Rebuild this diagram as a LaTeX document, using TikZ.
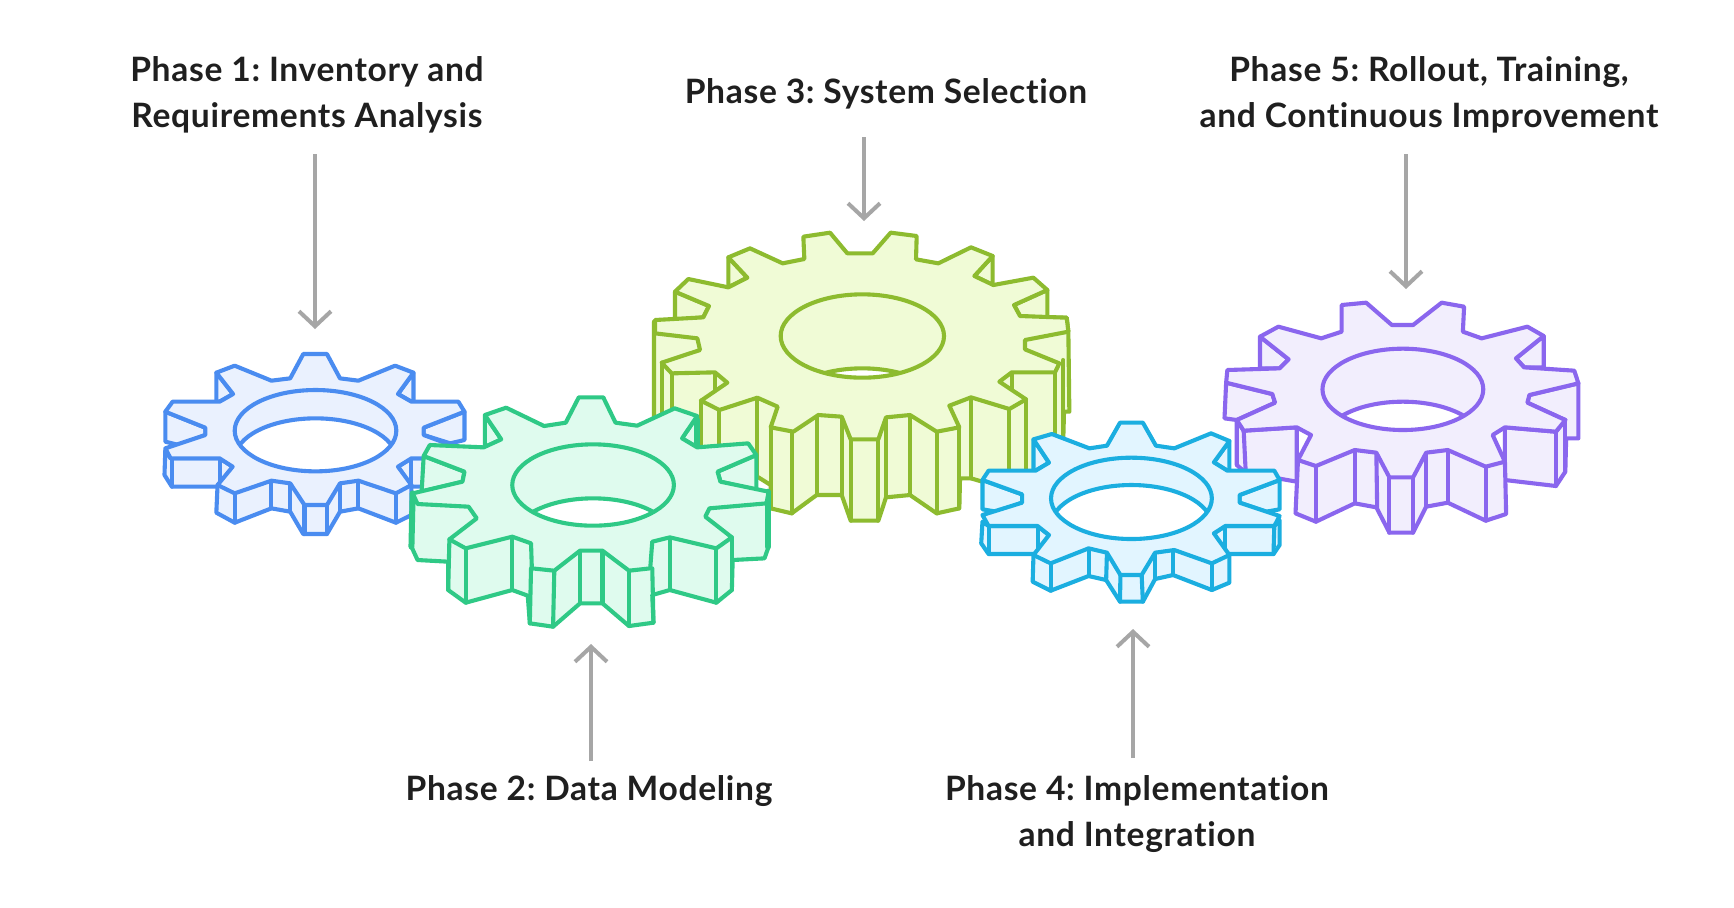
\documentclass[tikz,border=0pt]{standalone}
\usepackage{fontspec}
\setmainfont{Lato}[LetterSpace=2,Ligatures=NoCommon]
\frenchspacing
\usetikzlibrary{arrows.meta}
\definecolor{blueS}{HTML}{4A8CF0}\definecolor{blueF}{HTML}{EAF1FE}
\definecolor{greenS}{HTML}{2FC986}\definecolor{greenF}{HTML}{DFFBEE}
\definecolor{yelS}{HTML}{8DBB2F}\definecolor{yelF}{HTML}{F0FBD6}
\definecolor{cyanS}{HTML}{1BAEE0}\definecolor{cyanF}{HTML}{E2F5FF}
\definecolor{purS}{HTML}{8A66EE}\definecolor{purF}{HTML}{F2EEFD}
\definecolor{arrowgray}{HTML}{A6A6A6}
\newcommand\gearcol[2]{\colorlet{gs}{#1}\colorlet{gf}{#2}}
\newcommand\gearhole[5]{%
  \begin{scope}
    \clip (#1,#2) ellipse [x radius=#3,y radius=#4];
    \fill[white] (#1,#2+#5) ellipse [x radius=#3,y radius=#4];
    \draw[edge] (#1,#2+#5) ellipse [x radius=#3,y radius=#4];
  \end{scope}
  \draw[edge] (#1,#2) ellipse [x radius=#3,y radius=#4];}
\tikzset{
  wall/.style={draw=gs,fill=gf,line width=2.05pt,line join=round,line cap=round},
  edge/.style={draw=gs,line width=2.05pt,line join=round,line cap=round},
  wide/.style={shift={#1},x=0.20408pt,y=-0.16667pt},
  tall/.style={shift={#1},x=0.16667pt,y=-0.16667pt},
  lab/.style={text=black!88,font=\fontsize{16.8}{23}\selectfont\bfseries,align=center,inner sep=0pt},
  pointer/.style={draw=arrowgray,line width=2pt,-{Straight Barb[length=7.5pt,width=16pt,line width=2pt]}}
}
\begin{document}
\begin{tikzpicture}[x=0.5pt,y=-0.5pt]
\useasboundingbox (0,0) rectangle (1734,907);
\fill[white] (0,0) rectangle (1734,907);

% ---- Blue gear
\begin{scope}[wide={(140,330)}]
\gearcol{blueS}{blueF}
\path[wall] (187,128)--(187,215)--(195,215)--(228,192)--cycle;
\path[wall] (670,128)--(670,215)--(665,215)--(632,192)--cycle;
\path[wall] (62,245)--(62,335)--(95,345)--(160,315)--(160,293)--cycle;
\path[wall] (795,245)--(795,330)--(760,340)--(695,315)--(695,293)--cycle;
\path[wall] (62,360)--(60,435)--(78,470)--(200,470)--(227,410)--(195,385)--(75,385)--cycle;
\path[wall] (665,385)--(632,410)--(665,470)--(775,470)--(795,435)--(795,360)--(780,385)--cycle;
\path[wall] (190,465)--(187,548)--(232,578)--(322,535)--(368,545)--(400,612)--(458,612)--(490,545)--(535,535)--(627,578)--(665,555)--(665,465)--(627,440)--(232,440)--cycle;
\foreach \a/\b/\c/\d in {78/385/78/470,195/385/195/465,665/385/665/470,232/490/232/578,322/452/322/535,368/460/368/545,403/525/403/612,458/525/458/612,490/460/490/545,535/452/535/535,627/490/627/578}
  \draw[edge] (\a,\b)--(\c,\d);
\path[wall] (400,72)--(458,72)--(490,145)--(535,152)--(625,107)--(670,128)--(632,192)--(665,215)--(780,215)--(795,245)--(695,293)--(695,315)--(795,360)--(780,385)--(665,385)--(632,410)--(665,465)--(627,490)--(535,452)--(490,460)--(458,525)--(403,525)--(368,460)--(322,452)--(232,490)--(190,465)--(227,410)--(195,385)--(75,385)--(62,355)--(160,315)--(160,293)--(62,245)--(80,215)--(195,215)--(228,192)--(187,128)--(232,107)--(322,152)--(368,145)--cycle;
\gearhole{430}{302}{198}{122}{85}
\end{scope}

% ---- Yellow gear
\begin{scope}[tall={(640,210)}]
\gearcol{yelS}{yelF}
\path[wall] (105,245)--(105,330)--(190,322)--(207,288)--cycle;
\path[wall] (1222,240)--(1222,325)--(1140,318)--(1122,285)--cycle;
\path[wall] (265,142)--(265,232)--(322,203)--cycle;
\path[wall] (1058,138)--(1058,225)--(1003,198)--cycle;
\path[wall] (42,335)--(42,620)--(180,720)--(352,800)--(392,825)--(392,895)--(455,910)--(530,855)--(605,855)--(632,932)--(715,932)--(738,862)--(810,855)--(890,910)--(958,895)--(960,805)--(993,805)--(1105,838)--(1158,800)--(1245,790)--(1270,680)--(1272,605)--(1288,605)--(1285,365)--(1280,323)--cycle;
\foreach \a/\b/\c/\d in {65/458/65/610,95/490/95/610,183/572/183/720,238/600/238/700,352/563/352/800,392/652/392/895,455/665/455/910,530/615/530/855,605/620/605/855,632/688/632/932,715/688/715/932,738/622/738/862,810/615/810/855,890/665/890/910,958/652/958/895,993/562/993/805,1108/597/1108/830,1158/568/1158/800,1245/487/1245/790,1270/450/1270/680,225/487/225/545,1115/487/1115/550}
  \draw[edge] (\a,\b)--(\c,\d);
\path[wall] (490,80)--(570,68)--(622,130)--(698,130)--(752,68)--(830,78)--(828,148)--(895,160)--(993,112)--(1058,138)--(1003,198)--(1060,225)--(1180,203)--(1222,240)--(1122,285)--(1140,318)--(1280,323)--(1285,365)--(1155,390)--(1155,418)--(1258,460)--(1245,487)--(1115,487)--(1078,515)--(1158,568)--(1108,597)--(993,562)--(928,587)--(958,652)--(890,665)--(810,615)--(738,622)--(715,688)--(632,688)--(605,620)--(535,615)--(460,665)--(392,652)--(413,590)--(352,563)--(238,600)--(183,572)--(262,518)--(225,487)--(95,490)--(65,458)--(180,420)--(172,385)--(45,370)--(45,330)--(190,322)--(207,288)--(105,245)--(145,207)--(265,232)--(322,203)--(265,142)--(330,115)--(428,160)--(493,147)--cycle;
\gearhole{667}{378}{245}{125}{222}
\end{scope}

% ---- Purple gear
\begin{scope}[wide={(960,280)}]
\gearcol{purS}{purF}
\path[wall] (735,170)--(735,265)--(783,265)--(805,238)--cycle;
\path[wall] (1430,168)--(1430,262)--(1382,262)--(1362,235)--cycle;
\path[wall] (652,308)--(648,415)--(678,420)--(678,555)--(700,578)--(825,605)--(825,442)--(695,452)--(678,420)--(772,368)--(765,342)--cycle;
\path[wall] (1515,310)--(1515,475)--(1485,475)--(1483,575)--(1460,618)--(1335,600)--(1335,442)--(1460,455)--(1483,420)--(1390,368)--(1395,345)--cycle;
\path[wall] (828,540)--(822,700)--(872,725)--(967,670)--(1020,682)--(1052,758)--(1110,758)--(1142,680)--(1195,668)--(1288,722)--(1338,702)--(1335,545)--(1300,490)--(860,490)--cycle;
\foreach \a/\b/\c/\d in {695/452/700/578,1460/455/1460/618,678/420/678/555,1483/420/1483/575,825/442/825/540,1335/442/1335/545,872/558/872/725,967/510/967/670,1020/518/1022/682,1052/592/1052/758,1110/592/1110/758,1142/518/1142/680,1195/510/1195/668,1288/560/1288/722}
  \draw[edge] (\a,\b)--(\c,\d);
\path[wall] (935,75)--(995,68)--(1058,135)--(1110,135)--(1180,68)--(1235,80)--(1232,155)--(1278,175)--(1390,140)--(1430,168)--(1362,235)--(1382,262)--(1505,272)--(1515,310)--(1395,345)--(1390,368)--(1483,420)--(1460,455)--(1335,442)--(1305,465)--(1335,545)--(1288,560)--(1195,510)--(1142,518)--(1110,592)--(1052,592)--(1020,518)--(967,510)--(872,558)--(828,540)--(860,465)--(825,442)--(695,452)--(678,420)--(772,368)--(765,342)--(652,308)--(655,270)--(783,265)--(805,238)--(735,170)--(780,140)--(885,175)--(935,155)--cycle;
\gearhole{1085}{328}{197}{122}{159}
\end{scope}

% ---- Green gear
\begin{scope}[wide={(140,330)}]
\gearcol{greenS}{greenF}
\path[wall] (845,255)--(845,352)--(885,328)--cycle;
\path[wall] (1365,258)--(1365,352)--(1328,325)--cycle;
\path[wall] (695,378)--(690,485)--(790,455)--(795,425)--cycle;
\path[wall] (1510,375)--(1510,480)--(1422,455)--(1415,425)--cycle;
\path[wall] (668,490)--(665,650)--(680,690)--(755,695)--(755,780)--(798,818)--(912,780)--(950,797)--(955,880)--(1012,890)--(1078,820)--(1133,820)--(1198,888)--(1258,878)--(1255,795)--(1298,780)--(1412,818)--(1450,780)--(1452,690)--(1530,685)--(1540,650)--(1540,485)--(1400,500)--(800,500)--cycle;
\foreach \a/\b/\c/\d in {758/628/755/780,798/655/798/818,912/620/912/780,958/715/955/880,1015/722/1012/890,1078/662/1078/820,1133/662/1133/820,1198/722/1198/888,1255/715/1258/878,1298/622/1298/780,1412/655/1412/818,1450/622/1450/780}
  \draw[edge] (\a,\b)--(\c,\d);
\draw[edge,line width=3pt] (668,490)--(665,650);
\draw[edge,line width=3pt] (1538,485)--(1538,650);
\draw[edge,line width=3pt] (1365,270)--(1365,345);
\path[wall] (1075,202)--(1135,202)--(1165,278)--(1218,287)--(1310,235)--(1365,258)--(1328,325)--(1365,352)--(1490,340)--(1510,375)--(1415,425)--(1422,455)--(1540,485)--(1535,520)--(1395,535)--(1385,560)--(1450,622)--(1412,655)--(1298,622)--(1255,635)--(1250,715)--(1198,722)--(1133,662)--(1078,662)--(1015,722)--(960,715)--(958,640)--(912,620)--(798,655)--(758,628)--(825,565)--(805,530)--(680,522)--(668,490)--(790,455)--(795,425)--(695,378)--(710,345)--(842,352)--(885,328)--(845,255)--(897,233)--(990,288)--(1043,278)--cycle;
\gearhole{1110}{465}{198}{122}{162}
\end{scope}

% ---- Cyan gear
\begin{scope}[wide={(960,280)}]
\gearcol{cyanS}{cyanF}
\path[wall] (180,478)--(180,572)--(185,572)--(218,548)--cycle;
\path[wall] (660,483)--(660,572)--(655,572)--(622,547)--cycle;
\path[wall] (55,600)--(55,688)--(90,695)--(152,668)--(152,643)--cycle;
\path[wall] (783,600)--(783,688)--(750,695)--(685,668)--(685,645)--cycle;
\path[wall] (55,725)--(52,790)--(70,822)--(195,822)--(218,765)--(190,738)--(70,738)--cycle;
\path[wall] (783,720)--(783,795)--(768,822)--(650,822)--(622,760)--(650,738)--(770,738)--cycle;
\path[wall] (180,825)--(178,905)--(222,932)--(315,888)--(358,900)--(392,965)--(448,965)--(478,897)--(522,885)--(617,930)--(660,908)--(660,825)--(620,790)--(220,790)--cycle;
\foreach \a/\b/\c/\d in {70/738/70/822,190/738/190/815,650/738/650/822,770/738/768/822,222/850/222/932,315/805/315/888,360/818/358/900,393/885/392/965,445/885/448/965,478/818/478/897,522/810/522/885,617/850/617/930}
  \draw[edge] (\a,\b)--(\c,\d);
\path[wall] (392,428)--(448,428)--(480,497)--(525,505)--(615,460)--(660,483)--(622,547)--(655,572)--(770,572)--(783,600)--(685,645)--(685,668)--(783,708)--(770,738)--(650,738)--(622,760)--(660,825)--(617,850)--(525,810)--(478,818)--(445,885)--(393,885)--(360,818)--(315,805)--(222,850)--(180,825)--(218,765)--(190,738)--(70,738)--(55,705)--(152,668)--(152,643)--(55,600)--(70,572)--(185,572)--(218,548)--(180,478)--(225,462)--(317,505)--(360,497)--cycle;
\gearhole{420}{655}{197}{122}{82}
\end{scope}

% ---- Labels
\node[lab] (lab1) at (307,95) {Phase 1: Inventory and\\Requirements Analysis};
\node[lab] (lab2) at (589,791) {Phase 2: Data Modeling};
\node[lab] (lab3) at (886,94) {Phase 3: System Selection};
\node[lab] (lab4) at (1137,814) {Phase 4: Implementation\\and Integration};
\node[lab] (lab5) at (1429,95) {Phase 5: Rollout, Training,\\and Continuous Improvement};

% ---- Arrows
\coordinate (a1s) at (315,154); \coordinate (a1e) at (315,329);
\coordinate (a2s) at (591,761); \coordinate (a2e) at (591,644);
\coordinate (a3s) at (864,137); \coordinate (a3e) at (864,221);
\coordinate (a4s) at (1133,758); \coordinate (a4e) at (1133,629);
\coordinate (a5s) at (1406,154); \coordinate (a5e) at (1406,289);
\foreach \n in {1,...,5} \draw[pointer] (a\n s)--(a\n e);
\end{tikzpicture}
\end{document}
